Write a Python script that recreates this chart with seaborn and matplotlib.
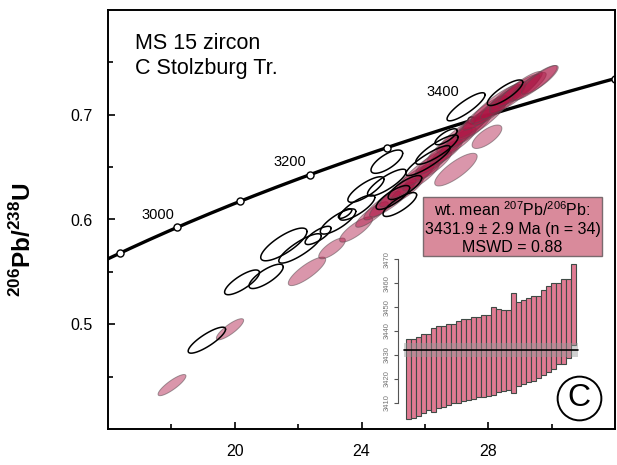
import numpy as np
import pandas as pd
import matplotlib
matplotlib.use("Agg")
import matplotlib.pyplot as plt
from matplotlib.patches import Rectangle
import seaborn as sns

# ---------------- data ----------------
# Analyses excluded from the weighted mean (open ellipses)
# 207Pb/235U, 2s, 206Pb/238U, 2s, error correlation
open_x = [19.12, 20.23, 20.99, 21.55, 22.06, 22.63, 23.26, 23.48, 23.86, 24.14,
          24.80, 24.99, 24.80, 25.21, 25.37, 26.10, 26.38, 26.67, 27.30, 28.53]
open_sx = [0.59, 0.55, 0.54, 0.73, 0.67, 0.41, 0.56, 0.21, 0.56, 0.57,
           0.61, 0.53, 0.50, 0.53, 0.53, 0.70, 0.67, 0.35, 0.60, 0.56]
open_y = [0.4848, 0.5400, 0.5457, 0.5762, 0.5724, 0.5848, 0.5981, 0.6057, 0.6114, 0.6286,
          0.6352, 0.6210, 0.6552, 0.6143, 0.6305, 0.6562, 0.6667, 0.6790, 0.7076, 0.7210]
open_sy = [0.0124, 0.0118, 0.0116, 0.0156, 0.0140, 0.0087, 0.0120, 0.0046, 0.0120, 0.0122,
           0.0128, 0.0114, 0.0111, 0.0114, 0.0114, 0.0143, 0.0140, 0.0076, 0.0134, 0.0122]
open_rho = [0.84, 0.79, 0.78, 0.79, 0.85, 0.77, 0.80, 0.69, 0.80, 0.80,
            0.83, 0.80, 0.72, 0.80, 0.80, 0.88, 0.85, 0.76, 0.86, 0.82]

# Analyses used in the weighted mean (filled ellipses)
fill_x = [18.02, 19.85, 22.28, 23.07, 23.83, 26.98, 27.96,
          24.33, 24.65, 24.96, 25.15, 25.44, 25.59, 25.88, 26.00, 26.26, 26.41,
          26.67, 26.79, 27.04, 27.17, 27.39, 27.55, 27.77, 27.90, 28.09, 28.24,
          28.46, 28.62, 28.84, 29.00, 29.25, 29.47, 29.63]
fill_sx = [0.44, 0.43, 0.59, 0.42, 0.52, 0.67, 0.47,
           0.515, 0.578, 0.704, 0.578, 0.515, 0.704, 0.578, 0.792, 0.578, 0.704,
           0.515, 0.704, 0.578, 0.792, 0.704, 0.578, 0.792, 0.704, 0.578, 0.792,
           0.704, 0.578, 0.792, 0.704, 0.578, 0.704, 0.578]
fill_y = [0.4419, 0.4952, 0.5505, 0.5724, 0.5905, 0.6476, 0.6790,
          0.6048, 0.6133, 0.6190, 0.6257, 0.6286, 0.6371, 0.6410, 0.6486, 0.6514, 0.6590,
          0.6638, 0.6714, 0.6743, 0.6819, 0.6848, 0.6914, 0.6943, 0.7019, 0.7038, 0.7105,
          0.7124, 0.7181, 0.7200, 0.7248, 0.7267, 0.7305, 0.7333]
fill_sy = [0.0101, 0.0101, 0.0136, 0.0099, 0.0121, 0.0156, 0.0112,
           0.0122, 0.0137, 0.0165, 0.0137, 0.0122, 0.0165, 0.0137, 0.0186, 0.0137, 0.0165,
           0.0122, 0.0165, 0.0137, 0.0186, 0.0165, 0.0137, 0.0186, 0.0165, 0.0137, 0.0186,
           0.0165, 0.0137, 0.0186, 0.0165, 0.0137, 0.0165, 0.0137]
fill_rho = [0.86, 0.84, 0.83, 0.77, 0.82, 0.81, 0.71,
            0.85, 0.86, 0.89, 0.86, 0.85, 0.89, 0.86, 0.90, 0.86, 0.89,
            0.85, 0.89, 0.86, 0.90, 0.89, 0.86, 0.90, 0.89, 0.86, 0.90,
            0.89, 0.86, 0.90, 0.89, 0.86, 0.89, 0.86]

# Concordia age marks (Ma) and labelled ones
conc_marks = [2900, 3000, 3100, 3200, 3300, 3400, 3550]
conc_labels = [3000, 3200, 3400]

# 207Pb/206Pb ages (Ma) and 2s errors of the weighted-mean set, ranked
wm_ages = [3419.9, 3420.0, 3421.1, 3422.1, 3422.8, 3423.6, 3424.9, 3425.2, 3426.0, 3426.3,
           3427.0, 3427.8, 3428.0, 3428.6, 3429.0, 3429.6, 3429.8, 3431.5, 3431.9, 3432.0,
           3432.1, 3435.1, 3434.4, 3435.4, 3436.1, 3436.9, 3437.4, 3439.4, 3440.9, 3442.0,
           3443.1, 3444.0, 3445.1, 3451.0]
wm_err = [16.7, 16.5, 16.5, 16.5, 15.9, 17.6, 17.2, 16.9, 17.0, 16.6,
          17.0, 17.1, 16.9, 17.2, 16.7, 17.1, 17.0, 18.4, 17.3, 17.0,
          16.7, 20.9, 17.6, 17.6, 17.6, 17.7, 17.2, 17.8, 17.9, 18.0,
          16.9, 17.6, 16.5, 17.0]
wm_mean = 3431.9
wm_mean_err = 2.9
wm_n = 34
wm_mswd = 0.88

inset_ticks = [3410, 3420, 3430, 3440, 3450, 3460, 3470]

# ---------------- style ----------------
sns.set_style("white")
plt.rcParams["font.family"] = ["Liberation Sans", "DejaVu Sans"]
plt.rcParams["mathtext.fontset"] = "custom"
plt.rcParams["mathtext.rm"] = "Liberation Sans"
plt.rcParams["mathtext.bf"] = "Liberation Sans:bold"
for key in ["text.color", "axes.labelcolor", "xtick.color", "ytick.color"]:
    plt.rcParams[key] = "black"

L238 = 1.55125e-4  # 1/Ma
L235 = 9.8485e-4


def conc(t):
    t = np.asarray(t, dtype=float)
    return np.exp(L235 * t) - 1.0, np.exp(L238 * t) - 1.0


def ellipse_xy(x, sx, y, sy, rho, n=120):
    t = np.linspace(0, 2 * np.pi, n)
    cov = np.array([[sx * sx, rho * sx * sy], [rho * sx * sy, sy * sy]])
    chol = np.linalg.cholesky(cov)
    pts = chol @ np.vstack([np.cos(t), np.sin(t)])
    return x + pts[0], y + pts[1]


W, H = 617, 465
fig = plt.figure(figsize=(W / 100, H / 100), dpi=100)
fig.patch.set_facecolor("white")
ax = fig.add_axes([108 / W, 36 / H, 507 / W, 419 / H])

# concordia curve
tt = np.linspace(2850, 3560, 400)
cx, cy = conc(tt)
curve = pd.DataFrame({"x": cx, "y": cy})
sns.lineplot(data=curve, x="x", y="y", sort=False, color="black", lw=2.4,
             ax=ax, zorder=1.5)
mx, my = conc(conc_marks)
sns.scatterplot(x=mx, y=my, s=26, color="white", edgecolor="black",
                linewidth=1.0, ax=ax, zorder=1.6)

label_offsets = {3000: (-14.2, 8.9), 3200: (-14.4, 9.4), 3400: (-20.4, 20.7)}
for age in conc_labels:
    px, py = conc(age)
    ax.annotate(str(age), (px, py), xytext=label_offsets[age],
                textcoords="offset points", ha="center", va="center",
                fontsize=10.5, zorder=6)

# filled ellipses (weighted-mean analyses)
for x, sx, y, sy, r in zip(fill_x, fill_sx, fill_y, fill_sy, fill_rho):
    ex, ey = ellipse_xy(x, sx, y, sy, r)
    ax.fill(ex, ey, facecolor=(0.68, 0.09, 0.27, 0.45),
            edgecolor=(0.35, 0.3, 0.32, 0.55), lw=0.7, zorder=2)

# open ellipses (excluded analyses)
for x, sx, y, sy, r in zip(open_x, open_sx, open_y, open_sy, open_rho):
    ex, ey = ellipse_xy(x, sx, y, sy, r)
    ax.plot(ex, ey, color="black", lw=1.1, zorder=3)

ax.set_xlim(16, 32)
ax.set_ylim(0.40, 0.80)
ax.set_xticks([20, 24, 28])
ax.set_xticks([18, 22, 26, 30], minor=True)
ax.set_yticks([0.5, 0.6, 0.7])
ax.set_yticklabels(["0.5", "0.6", "0.7"])
ax.set_yticks([0.45, 0.55, 0.65, 0.75], minor=True)
ax.tick_params(axis="both", which="major", direction="in", length=5, width=1.2,
               labelsize=11.5, pad=11, bottom=True, left=True, top=False, right=False)
ax.tick_params(axis="both", which="minor", direction="in", length=3.5, width=1.2,
               bottom=True, left=True, top=False, right=False)
for s in ax.spines.values():
    s.set_linewidth(1.4)
    s.set_color("black")
ax.set_xlabel("")
ax.set_ylabel(r"$^{\mathbf{206}}$Pb/$^{\mathbf{238}}$U", fontsize=17.5,
              fontweight="bold")
ax.yaxis.set_label_coords(-0.142, 0.451)

# sample name
ax.text(0.053, 0.907, "MS 15 zircon", transform=ax.transAxes, fontsize=15.5,
        va="baseline", ha="left")
ax.text(0.053, 0.847, "C Stolzburg Tr.", transform=ax.transAxes, fontsize=15.5,
        va="baseline", ha="left")

# weighted mean result box
ax.add_patch(Rectangle((0.6213, 0.4129), 0.353, 0.1408, transform=ax.transAxes,
                       facecolor="#d98a9b", edgecolor="#7a6a6e", lw=1.0, zorder=7))
ax.text(0.7978, 0.5227, r"wt. mean $^{207}$Pb/$^{206}$Pb:", transform=ax.transAxes,
        ha="center", va="center", fontsize=11.5, zorder=8)
ax.text(0.7978, 0.475, f"{wm_mean} \u00b1 {wm_mean_err} Ma (n = {wm_n})",
        transform=ax.transAxes, ha="center", va="center", fontsize=11.5, zorder=8)
ax.text(0.7978, 0.432, f"MSWD = {wm_mswd}", transform=ax.transAxes,
        ha="center", va="center", fontsize=11.5, zorder=8)

# panel letter
ax.plot([0.929], [0.074], "o", ms=31.5, mfc="white", mec="black", mew=1.4,
        transform=ax.transAxes, clip_on=False, zorder=8)
ax.text(0.929, 0.074, "C", transform=ax.transAxes, ha="center", va="center",
        fontsize=23, zorder=9)

# inset: ranked 207Pb/206Pb ages
ins = fig.add_axes([398 / W, (H - 426.6) / H, 182 / W, 179.2 / H])
ins.patch.set_alpha(0)
idx = np.arange(len(wm_ages))
ages = np.array(wm_ages)
errs = np.array(wm_err)
ins.bar(idx, 2 * errs, bottom=ages - errs, width=0.86, color="#e07b93",
        edgecolor="#3f4a45", lw=0.8, zorder=2)
ins.fill_between([-0.9, len(ages) - 0.1], wm_mean - wm_mean_err,
                 wm_mean + wm_mean_err, color="#9a9a9a", alpha=0.45, lw=0, zorder=3)
ins.plot([-0.9, len(ages) - 0.1], [wm_mean, wm_mean], color="black", lw=1.2, zorder=4)
ins.set_xlim(-2.1, 34.3)
ins.set_ylim(3400, 3475)
ins.set_xticks([])
ins.set_yticks(inset_ticks)
ins.set_yticklabels([str(v) for v in inset_ticks], rotation=90, va="center",
                    fontsize=5.5)
ins.tick_params(axis="y", direction="out", length=3, width=0.8, pad=2,
                left=True, colors="#555555", labelcolor="#777777")
for side in ["top", "right", "bottom"]:
    ins.spines[side].set_visible(False)
ins.spines["left"].set_bounds(3410, 3470)
ins.spines["left"].set_color("#555555")
ins.spines["left"].set_linewidth(0.8)

fig.savefig("out.png", dpi=100, facecolor="white")
